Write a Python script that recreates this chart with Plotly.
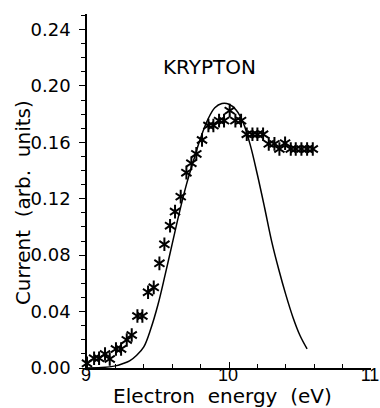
import plotly.graph_objects as go

# Measured data (asterisks)
energy_meas = [9.00, 9.05, 9.085, 9.127, 9.16, 9.204, 9.24, 9.28, 9.315, 9.355,
               9.39, 9.43, 9.47, 9.51, 9.545, 9.585, 9.62, 9.66, 9.70, 9.735,
               9.77, 9.81, 9.855, 9.89, 9.93, 9.965, 10.005, 10.045, 10.085, 10.125,
               10.165, 10.20, 10.24, 10.28, 10.32, 10.355, 10.395, 10.435, 10.47, 10.51,
               10.55, 10.59]
current_meas = [0.0033, 0.0069, 0.0069, 0.0099, 0.0064, 0.0135, 0.0135, 0.0199, 0.0234, 0.0369,
                0.0369, 0.0537, 0.0572, 0.0742, 0.0877, 0.1009, 0.1109, 0.1215, 0.1385, 0.1452,
                0.1518, 0.1617, 0.1719, 0.1719, 0.1754, 0.1754, 0.1825, 0.1754, 0.1754, 0.1657,
                0.1657, 0.1657, 0.1657, 0.1589, 0.1589, 0.1553, 0.1594, 0.1553, 0.1553, 0.1553,
                0.1553, 0.1553]

# Calculated curve (solid line)
energy_calc = [9.00, 9.10, 9.20, 9.25, 9.30, 9.35, 9.40, 9.45, 9.50, 9.55,
               9.60, 9.65, 9.70, 9.75, 9.80, 9.85, 9.90, 9.95, 10.00, 10.05,
               10.10, 10.15, 10.20, 10.25, 10.30, 10.35, 10.40, 10.45, 10.50, 10.55]
current_calc = [0.0000, 0.0003, 0.0015, 0.0030, 0.0050, 0.0090, 0.0150, 0.0280, 0.0450, 0.0660,
                0.0880, 0.1100, 0.1300, 0.1470, 0.1630, 0.1760, 0.1845, 0.1875, 0.1870, 0.1830,
                0.1740, 0.1580, 0.1370, 0.1140, 0.0900, 0.0700, 0.0520, 0.0360, 0.0230, 0.0135]

y_ticks = [0.00, 0.04, 0.08, 0.12, 0.16, 0.20, 0.24]
x_ticks = [9, 10, 11]

FONT = "DejaVu Sans"

fig = go.Figure()
fig.add_trace(go.Scatter(x=energy_calc, y=current_calc, mode="lines",
                         line=dict(color="black", width=1.5, shape="spline", smoothing=1.0),
                         showlegend=False, hoverinfo="skip"))
for sym in ["y-up-open", "y-down-open"]:
    fig.add_trace(go.Scatter(x=energy_meas, y=current_meas, mode="markers",
                             marker=dict(symbol=sym, size=8.5, color="black",
                                         line=dict(color="black", width=2)),
                             cliponaxis=False, showlegend=False))

fig.update_layout(
    width=380, height=408,
    margin=dict(l=87, r=9, t=14, b=40, autoexpand=False),
    paper_bgcolor="white", plot_bgcolor="white",
    font=dict(family=FONT, color="black", size=18),
    xaxis=dict(range=[9, 11], tickvals=x_ticks, ticktext=[str(v) for v in x_ticks],
               showline=True, linecolor="black", linewidth=1.5, mirror=False,
               ticks="inside", ticklen=6, tickwidth=1.2, tickcolor="black",
               minor=dict(dtick=0.2, ticks="inside", ticklen=4, tickcolor="black", tickwidth=1),
               showgrid=False, zeroline=False,
               tickfont=dict(size=18, family="Liberation Sans"),
               ticklabelstandoff=-10, ticklabelshift=-1,
               ticklabeloverflow="allow", automargin=False),
    yaxis=dict(range=[0, 0.251], tickvals=y_ticks, ticktext=[f"{v:.2f}" for v in y_ticks],
               showline=True, linecolor="black", linewidth=1.5, mirror=False,
               ticks="outside", ticklen=6, tickwidth=1.2, tickcolor="black",
               minor=dict(dtick=0.01, ticks="outside", ticklen=4, tickcolor="black", tickwidth=1),
               showgrid=False, zeroline=False, tickfont=dict(size=18),
               ticklabelstandoff=5, automargin=False),
    annotations=[
        dict(text="KRYPTON", x=9.866, y=0.2135, xref="x", yref="y", showarrow=False,
             font=dict(size=20, family=FONT)),
        dict(text="Electron  energy  (eV)", x=(222 - 87) / (371 - 87), y=-0.079,
             xref="paper", yref="paper", showarrow=False, yanchor="middle",
             font=dict(size=20, family=FONT)),
        dict(text="Current  (arb.  units)", x=-0.225, y=(368 - 203) / (368 - 14),
             xref="paper", yref="paper", showarrow=False, textangle=-90,
             xanchor="center", yanchor="middle", font=dict(size=20, family=FONT)),
    ],
)

fig.write_html(
    "out.html",
    config={"displayModeBar": False},
    post_script="document.body.style.margin='0px';"
                "document.documentElement.style.overflow='hidden';"
                "document.body.style.overflow='hidden';",
)
